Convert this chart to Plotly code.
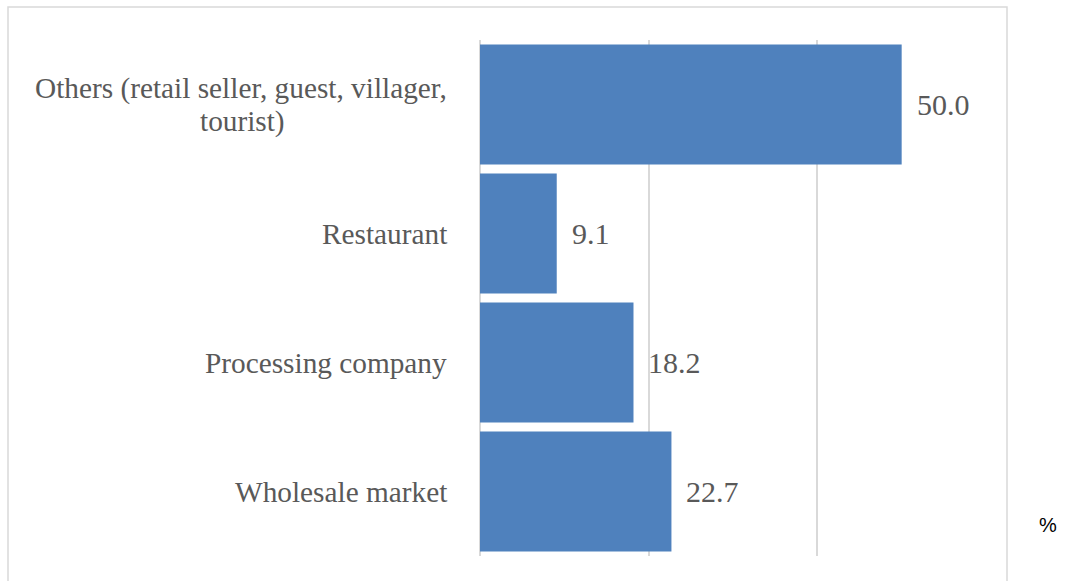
import plotly.graph_objects as go

# Buyer categories (bottom to top) and their shares in percent
categories = [
    "Wholesale market",
    "Processing company",
    "Restaurant",
    "Others (retail seller, guest, villager,<br>tourist)",
]
shares = [22.7, 18.2, 9.1, 50.0]
grid_ticks = [0, 20, 40, 60]

BAR_COLOR = "#4F81BD"
TEXT_COLOR = "#595959"
GRID_COLOR = "#D9D9D9"
SERIF = "Liberation Serif"
LINE_STEP = 33  # px between wrapped label lines

fig = go.Figure(
    go.Bar(
        y=categories,
        x=shares,
        orientation="h",
        marker=dict(color=BAR_COLOR, line=dict(width=0)),
        hoverinfo="skip",
    )
)

annotations = []
# Value labels just right of each bar end
for cat, val in zip(categories, shares):
    annotations.append(dict(
        x=val, y=cat, xref="x", yref="y",
        text=f"{val:.1f}", showarrow=False,
        xanchor="left", xshift=13,
        font=dict(family=SERIF, size=30, color=TEXT_COLOR),
    ))
# Category labels: each wrapped line centred on the others, right edge near the axis
for cat in categories:
    lines = cat.split("<br>")
    n = len(lines)
    widest = max(lines, key=len)
    for i, line in enumerate(lines):
        annotations.append(dict(
            x=0, y=cat, xref="paper", yref="y",
            text=line, showarrow=False,
            xanchor="right", xshift=-31, align="center",
            yshift=((n - 1) / 2 - i) * LINE_STEP,
            font=dict(family=SERIF, size=29.3, color=TEXT_COLOR),
        ) if line == widest else dict(
            x=0, y=cat, xref="paper", yref="y",
            text=line, showarrow=False,
            xanchor="center", xshift=-31 - 207, align="center",
            yshift=((n - 1) / 2 - i) * LINE_STEP,
            font=dict(family=SERIF, size=29.3, color=TEXT_COLOR),
        ))
# Unit marker outside the frame
annotations.append(dict(
    x=1.1225, y=0.06, xref="paper", yref="paper",
    text="%", showarrow=False, xanchor="center", yanchor="middle",
    font=dict(family="Liberation Sans", size=20, color="#000000"),
))

fig.update_layout(
    width=1067,
    height=581,
    margin=dict(l=480, r=81, t=40, b=25),
    paper_bgcolor="white",
    plot_bgcolor="white",
    bargap=0.07,
    showlegend=False,
    annotations=annotations,
    shapes=[dict(
        type="rect", xref="paper", yref="paper",
        x0=-0.9328, x1=1.0415, y0=-0.08, y1=1.064,
        line=dict(color="#D9D9D9", width=1.5),
        fillcolor="rgba(0,0,0,0)", layer="below",
    )],
    xaxis=dict(
        range=[0, 60],
        tickvals=grid_ticks,
        showticklabels=False,
        showgrid=True,
        gridcolor=GRID_COLOR,
        gridwidth=1.5,
        zeroline=True,
        zerolinecolor=GRID_COLOR,
        zerolinewidth=1.5,
        showline=False,
        fixedrange=True,
    ),
    yaxis=dict(
        categoryorder="array",
        categoryarray=categories,
        showticklabels=False,
        showgrid=False,
        zeroline=False,
        showline=False,
        fixedrange=True,
    ),
)

fig.write_html("out.html")
